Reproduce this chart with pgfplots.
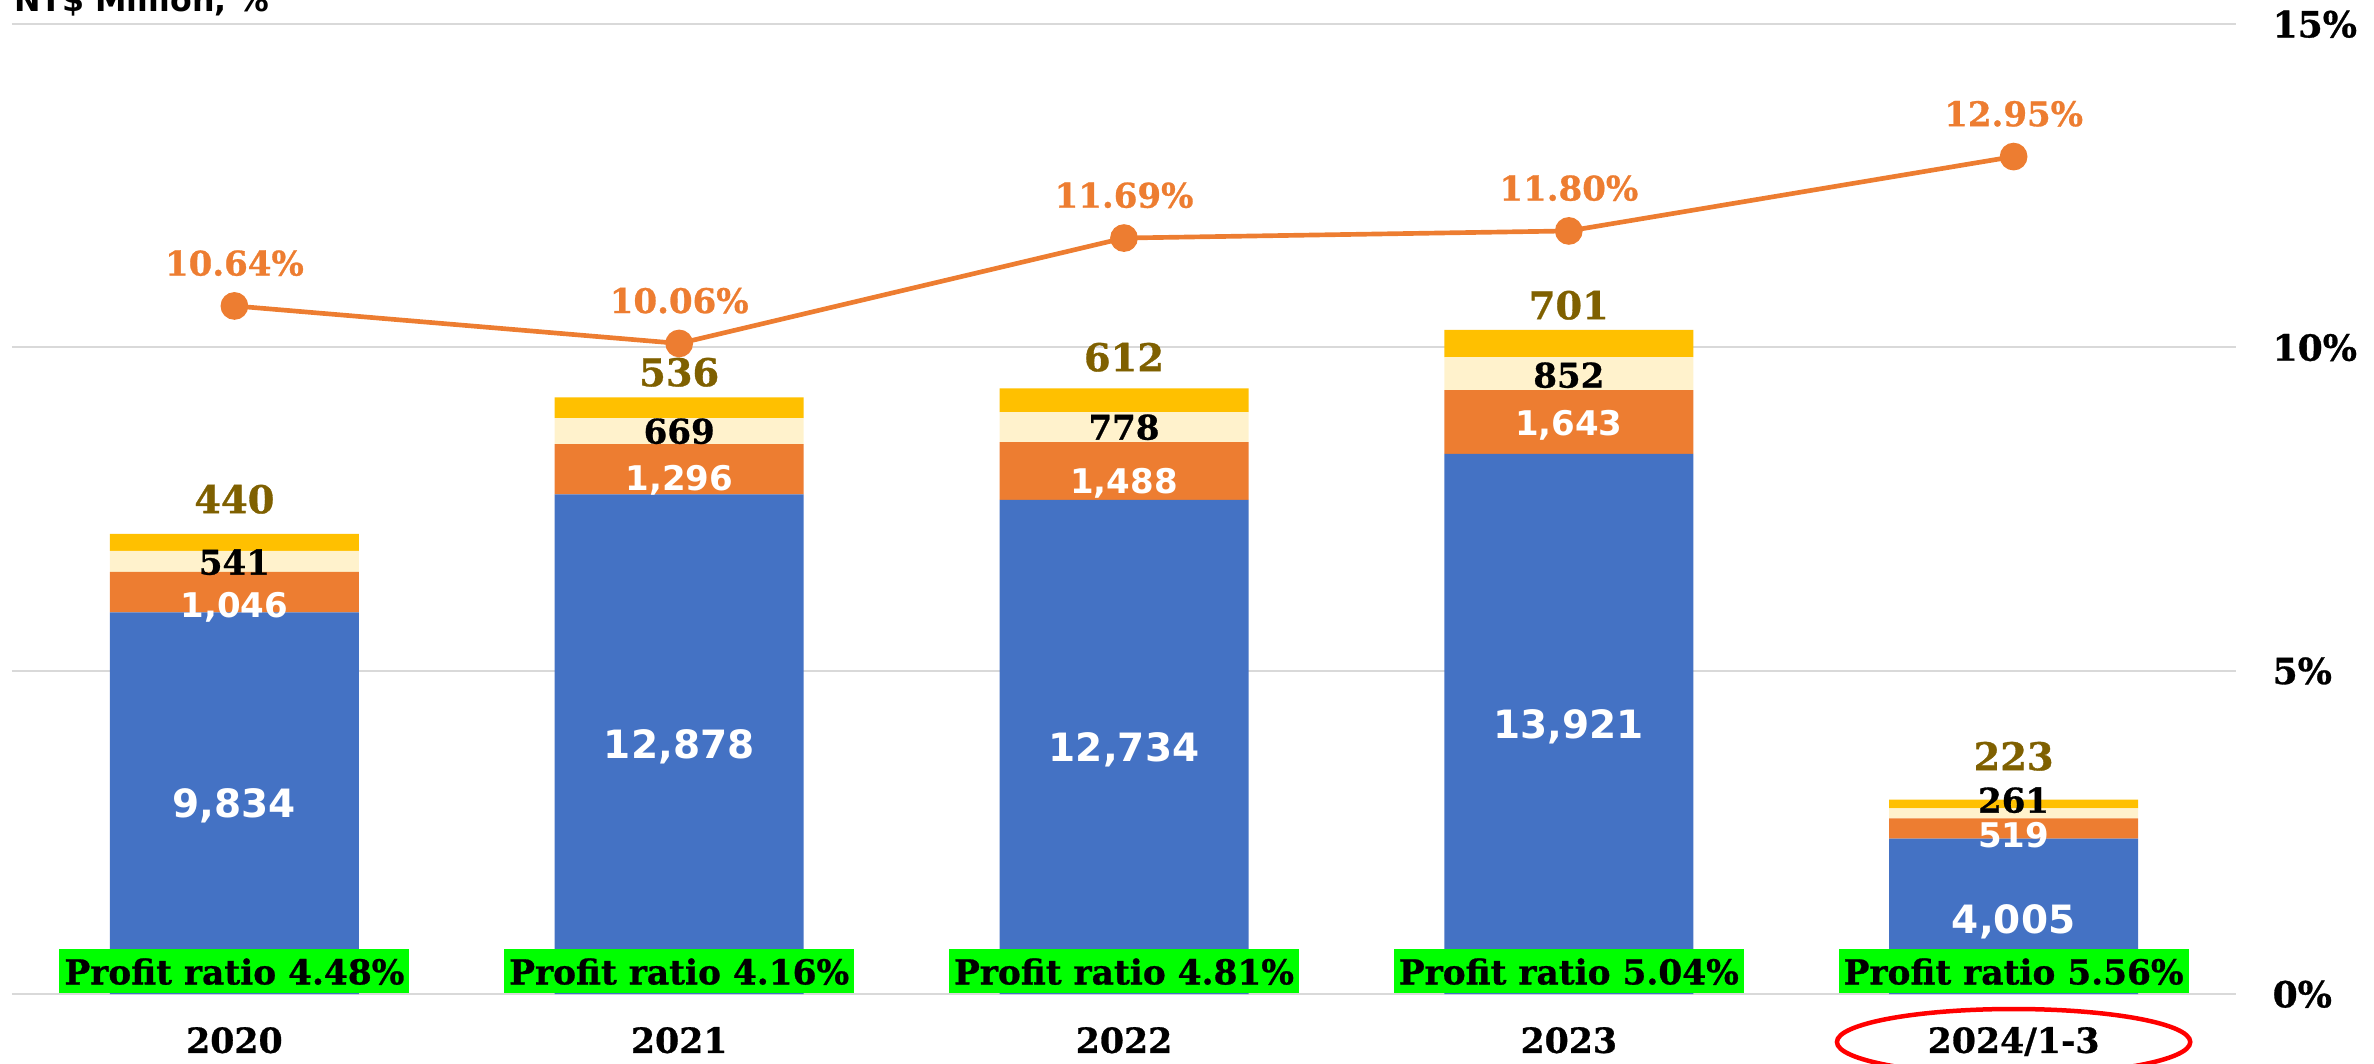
\documentclass[border=0pt]{standalone}
\usepackage{pgfplots}
\pgfplotsset{compat=1.18}
\usepackage{fontspec}
\newfontfamily\dvsans{DejaVu Sans}
\newfontfamily\dvserif{DejaVu Serif}[BoldFeatures={FakeBold=0.8}]
\definecolor{cblue}{HTML}{4472C4}
\definecolor{corange}{HTML}{ED7D31}
\definecolor{clight}{HTML}{FFF2CC}
\definecolor{cgold}{HTML}{FFC000}
\definecolor{cgoldtxt}{HTML}{7F6000}
\definecolor{cgrid}{HTML}{D9D9D9}
\definecolor{cgreen}{HTML}{00FF00}
\begin{document}
\begin{tikzpicture}[
 blab/.style={font=\dvsans\bfseries\fontsize{11.7}{12}\selectfont, text=white, inner sep=0pt, text depth=0pt, anchor=center},
 olab/.style={font=\dvsans\bfseries\fontsize{10.2}{12}\selectfont, text=white, inner sep=0pt, text depth=0pt, anchor=center},
 llab/.style={font=\dvserif\bfseries\fontsize{10.2}{12}\selectfont, text=black, inner sep=0pt, text depth=0pt, anchor=center},
 glab/.style={font=\dvserif\bfseries\fontsize{11.5}{12}\selectfont, text=cgoldtxt, inner sep=0pt, text depth=0pt, anchor=center},
 pr/.style={fill=cgreen, font=\dvserif\bfseries\fontsize{10.3}{12}\selectfont, minimum width=105pt, minimum height=13.2pt, inner sep=0pt, text depth=0pt, anchor=south}
]
\pgfplotsset{common/.style={at={(3.6pt,20.7pt)}, anchor=south west, scale only axis,
 width=667.2pt, height=291pt, xmin=-0.5, xmax=4.5, clip=false}}
\begin{axis}[common, ymin=0, ymax=25000,
 ybar stacked, bar width=74.7pt,
 axis line style={draw=none}, major tick length=0pt,
 xtick={0,1,2,3,4}, xticklabels={2020,2021,2022,2023,2024/1-3},
 xticklabel style={font=\dvserif\bfseries\fontsize{10.4}{12}\selectfont, anchor=center, inner sep=0pt, text depth=0pt, yshift=-13.8pt},
 ytick={0,8333.333,16666.667,25000}, yticklabels={},
 ymajorgrids, grid style={cgrid, line width=0.6pt}]
\addplot[fill=cblue, draw=none] coordinates {(0,9834) (1,12878) (2,12734) (3,13921) (4,4005)};
\addplot[fill=corange, draw=none] coordinates {(0,1046) (1,1296) (2,1488) (3,1643) (4,519)};
\addplot[fill=clight, draw=none] coordinates {(0,541) (1,669) (2,778) (3,852) (4,261)};
\addplot[fill=cgold, draw=none] coordinates {(0,440) (1,536) (2,612) (3,701) (4,223)};
\end{axis}
\begin{axis}[common, ymin=0, ymax=25000, hide axis]
% blue segment labels
\node[blab] at (axis cs:0,4917) {9,834};
\node[blab] at (axis cs:1,6439) {12,878};
\node[blab] at (axis cs:2,6367) {12,734};
\node[blab] at (axis cs:3,6960) {13,921};
\node[blab] at (axis cs:4,1933) {4,005};
% orange segment labels
\node[olab] at (axis cs:0,10026) {1,046};
\node[olab] at (axis cs:1,13299) {1,296};
\node[olab] at (axis cs:2,13222) {1,488};
\node[olab] at (axis cs:3,14716) {1,643};
\node[olab] at (axis cs:4,4098) {519};
% light segment labels
\node[llab] at (axis cs:0,11134) {541};
\node[llab] at (axis cs:1,14510) {669};
\node[llab] at (axis cs:2,14613) {778};
\node[llab] at (axis cs:3,15954) {852};
\node[llab] at (axis cs:4,5000) {261};
% gold segment labels
\node[glab] at (axis cs:0,12758) {440};
\node[glab] at (axis cs:1,16031) {536};
\node[glab] at (axis cs:2,16418) {612};
\node[glab] at (axis cs:3,17758) {701};
\node[glab] at (axis cs:4,6134) {223};
% profit ratio boxes
\node[pr] at (axis cs:0,0) {Profit ratio 4.48\%};
\node[pr] at (axis cs:1,0) {Profit ratio 4.16\%};
\node[pr] at (axis cs:2,0) {Profit ratio 4.81\%};
\node[pr] at (axis cs:3,0) {Profit ratio 5.04\%};
\node[pr] at (axis cs:4,0) {Profit ratio 5.56\%};
\draw[red, line width=1.35pt] ([yshift=-14.4pt]axis cs:4,0) ellipse [x radius=53pt, y radius=9.9pt];
\end{axis}
\begin{axis}[common, ymin=0, ymax=15,
 axis x line=none, axis y line*=right, axis line style={draw=none}, major tick length=0pt,
 ytick={0,5,10,15}, yticklabels={0\%,5\%,10\%,15\%},
 yticklabel style={font=\dvserif\bfseries\fontsize{10.8}{12}\selectfont, anchor=west, inner sep=0pt, text depth=0pt, xshift=10.8pt}]
\addplot[corange, line width=1.4pt, mark=*, mark size=3.45pt, mark options={fill=corange, draw=corange},
 nodes near coords={\pgfmathprintnumber[fixed,fixed zerofill,precision=2,assume math mode=true]{\pgfplotspointmeta}\%},
 nodes near coords style={font=\dvserif\bfseries\fontsize{10.2}{12}\selectfont, text=corange, anchor=center, inner sep=0pt, text depth=0pt, yshift=12.9pt}]
 coordinates {(0,10.64) (1,10.06) (2,11.69) (3,11.80) (4,12.95)};
\end{axis}
\node[anchor=base east, font=\dvsans\bfseries\fontsize{9.5}{11}\selectfont, inner sep=0pt] at (81pt,315.3pt) {Unit: NT\$ Million, \%};
\pgfresetboundingbox
\useasboundingbox (0,0) rectangle (712.2pt,318.9pt);
\end{tikzpicture}
\end{document}
